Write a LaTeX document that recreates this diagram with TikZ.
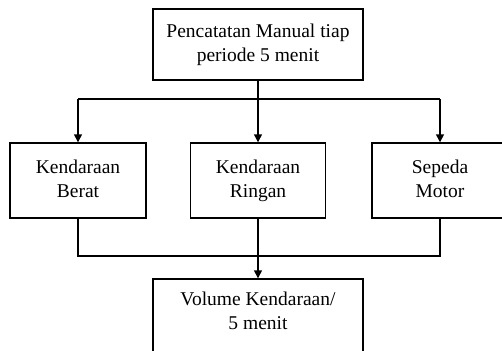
\documentclass[tikz,border=0pt]{standalone}
\usepackage{fontspec}
\setmainfont{Liberation Serif}
\usetikzlibrary{arrows.meta}

\begin{document}
\begin{tikzpicture}[x=1pt,y=-1pt,line width=1.4pt,
	box/.style={draw, rectangle, align=center, inner sep=0pt,
		font=\fontsize{19.5}{24}\selectfont},
	arr/.style={-{Triangle[width=8pt,length=8pt]}}]

\useasboundingbox (0,0) rectangle (502,350);
\clip (0,0) rectangle (502,350);

\node[box, minimum width=210pt, minimum height=71pt] (manual) at (258,44.5) {Pencatatan Manual tiap\strut\\periode 5 menit\strut};
\node[box, minimum width=136pt, minimum height=75pt] (berat) at (78,180.5) {Kendaraan\strut\\Berat\strut};
\node[box, minimum width=135pt, minimum height=75pt] (ringan) at (258,180.5) {Kendaraan\strut\\Ringan\strut};
\node[box, minimum width=136pt, minimum height=75pt] (motor) at (440,180.5) {Sepeda\strut\\Motor\strut};
\node[box, minimum width=210pt, minimum height=75pt] (volume) at (258,316.5) {Volume Kendaraan/\strut\\5 menit\strut\rule[-15.2pt]{0pt}{1pt}};

\coordinate (split) at (258,99);
\coordinate (join) at (258,256);

% dari pencatatan ke tiap jenis kendaraan
\draw (manual.south) -- (split);
\draw (split -| berat.north) -- (split -| motor.north);
\draw[arr] (split -| berat.north) -- (berat.north);
\draw[arr] (split) -- (ringan.north);
\draw[arr] (split -| motor.north) -- (motor.north);

% gabung ke volume
\draw (berat.south) -- (berat.south |- join) -- (motor.south |- join) -- (motor.south);
\draw (ringan.south) -- (join);
\draw[arr] (join) -- (volume.north);

\end{tikzpicture}
\end{document}
